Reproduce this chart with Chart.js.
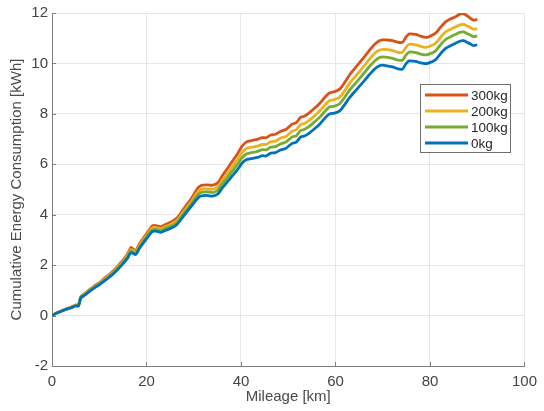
<!DOCTYPE html>
<html>
<head>
<meta charset="utf-8">
<script src="https://cdn.jsdelivr.net/npm/chart.js@4"></script>
<style>
  html, body { margin: 0; padding: 0; background: #fff; }
  #chart { display: block; }
</style>
</head>
<body>
<canvas id="chart" width="544" height="411"></canvas>
<script>
// mileage samples [km], shared by all series
const mileage = [0, 1, 2, 3, 4, 5, 5.6, 6.1, 7, 8, 9, 10, 11, 12, 13, 14, 15, 16, 16.7, 17.7,
  18.5, 19.5, 20.3, 21.2, 22, 23, 24, 25.4, 26.5, 27.5, 28.5, 29.6, 30.5, 31.3, 32, 33, 34, 35.1, 36, 37.2,
  38.2, 39.3, 40.2, 41.1, 42, 43.5, 44.5, 45.3, 46.3, 47.3, 48.4, 49.5, 50.8, 51.7, 52.6, 53.4, 54.3, 55.5, 56.8, 57.8,
  58.8, 59.8, 60.9, 62, 63, 64.4, 65.8, 67, 68.3, 69.2, 70, 71, 72.1, 73.2, 74.2, 74.9, 75.6, 77, 78, 79,
  79.8, 81.2, 82.2, 83.3, 84.3, 85.4, 86.3, 87.1, 87.8, 88.5, 89.2, 90];

// cumulative energy [kWh] per payload
const load0 = [0.0, 0.10, 0.17, 0.25, 0.30, 0.38, 0.38, 0.70, 0.82, 0.97, 1.10, 1.22, 1.36, 1.50, 1.66, 1.85, 2.05, 2.28, 2.50, 2.42,
  2.66, 2.92, 3.12, 3.33, 3.35, 3.30, 3.38, 3.48, 3.62, 3.86, 4.10, 4.36, 4.58, 4.73, 4.76, 4.76, 4.74, 4.82, 5.05, 5.32,
  5.55, 5.80, 6.04, 6.18, 6.22, 6.27, 6.34, 6.33, 6.44, 6.46, 6.57, 6.63, 6.83, 6.88, 7.08, 7.12, 7.22, 7.40, 7.62, 7.84,
  8.00, 8.03, 8.12, 8.38, 8.65, 8.95, 9.25, 9.52, 9.78, 9.90, 9.93, 9.90, 9.86, 9.78, 9.78, 9.98, 10.10, 10.08, 10.02, 9.99,
  10.02, 10.15, 10.38, 10.60, 10.70, 10.80, 10.88, 10.90, 10.84, 10.78, 10.71, 10.74];

const load100 = [0.0, 0.10, 0.18, 0.26, 0.31, 0.39, 0.39, 0.72, 0.84, 0.99, 1.13, 1.25, 1.39, 1.54, 1.70, 1.89, 2.10, 2.33, 2.57, 2.47,
  2.72, 2.98, 3.19, 3.40, 3.42, 3.37, 3.46, 3.56, 3.71, 3.95, 4.20, 4.46, 4.71, 4.86, 4.90, 4.90, 4.88, 4.97, 5.21, 5.49,
  5.74, 6.01, 6.26, 6.41, 6.45, 6.51, 6.58, 6.57, 6.68, 6.70, 6.81, 6.88, 7.08, 7.13, 7.34, 7.38, 7.48, 7.67, 7.89, 8.11,
  8.28, 8.31, 8.40, 8.67, 8.95, 9.25, 9.56, 9.84, 10.10, 10.23, 10.26, 10.24, 10.20, 10.13, 10.13, 10.33, 10.45, 10.43, 10.37, 10.34,
  10.37, 10.50, 10.73, 10.95, 11.05, 11.15, 11.23, 11.25, 11.19, 11.13, 11.06, 11.09];

const load200 = [0.0, 0.11, 0.18, 0.26, 0.32, 0.40, 0.40, 0.73, 0.86, 1.01, 1.15, 1.27, 1.42, 1.57, 1.73, 1.93, 2.14, 2.38, 2.62, 2.52,
  2.77, 3.04, 3.24, 3.47, 3.49, 3.44, 3.52, 3.64, 3.78, 4.03, 4.28, 4.55, 4.82, 4.98, 5.02, 5.02, 5.01, 5.10, 5.35, 5.65,
  5.92, 6.20, 6.46, 6.62, 6.67, 6.72, 6.79, 6.78, 6.89, 6.92, 7.04, 7.10, 7.31, 7.37, 7.57, 7.62, 7.72, 7.91, 8.14, 8.36,
  8.53, 8.57, 8.66, 8.93, 9.22, 9.53, 9.84, 10.12, 10.40, 10.52, 10.56, 10.55, 10.51, 10.44, 10.44, 10.64, 10.76, 10.74, 10.68, 10.64,
  10.67, 10.80, 11.03, 11.25, 11.35, 11.45, 11.53, 11.55, 11.49, 11.43, 11.36, 11.38];

const load300 = [0.0, 0.11, 0.19, 0.27, 0.33, 0.42, 0.42, 0.75, 0.88, 1.04, 1.18, 1.30, 1.46, 1.61, 1.78, 1.98, 2.19, 2.44, 2.70, 2.58,
  2.84, 3.11, 3.32, 3.55, 3.57, 3.52, 3.61, 3.73, 3.88, 4.13, 4.39, 4.67, 4.96, 5.13, 5.17, 5.18, 5.17, 5.27, 5.53, 5.85,
  6.13, 6.43, 6.71, 6.88, 6.93, 6.99, 7.06, 7.05, 7.16, 7.19, 7.31, 7.38, 7.59, 7.65, 7.86, 7.91, 8.02, 8.21, 8.44, 8.67,
  8.84, 8.88, 8.98, 9.26, 9.55, 9.87, 10.19, 10.48, 10.76, 10.89, 10.93, 10.93, 10.90, 10.84, 10.84, 11.04, 11.17, 11.15, 11.08, 11.03,
  11.06, 11.20, 11.43, 11.65, 11.76, 11.85, 11.95, 11.97, 11.90, 11.80, 11.72, 11.75];

const seriesLabels = ['0kg', '100kg', '200kg', '300kg'];
const seriesColors = ['#0072BD', '#77AC30', '#EDB120', '#D95319'];
const seriesValues = [load0, load100, load200, load300];

const xTicks = [0, 20, 40, 60, 80, 100];
const yTicks = [-2, 0, 2, 4, 6, 8, 10, 12];

const FONT = "'Liberation Sans', Arial, Helvetica, sans-serif";

// MATLAB-style boxed legend inside the axes, plus inward tick marks
const matlabBits = {
  id: 'matlabBits',
  afterDraw(chart) {
    const ctx = chart.ctx;
    const { x, y } = chart.scales;
    ctx.save();

    // inward ticks
    ctx.strokeStyle = '#808080';
    ctx.lineWidth = 1;
    ctx.beginPath();
    xTicks.forEach(v => {
      const px = Math.round(x.getPixelForValue(v)) + 0.5;
      ctx.moveTo(px, y.bottom);
      ctx.lineTo(px, y.bottom - 4);
    });
    yTicks.forEach(v => {
      const py = Math.round(y.getPixelForValue(v)) + 0.5;
      ctx.moveTo(x.left, py);
      ctx.lineTo(x.left + 4, py);
    });
    ctx.stroke();

    // legend box
    const bx = 420.5, by = 84.5, bw = 90, bh = 68;
    ctx.fillStyle = '#fff';
    ctx.fillRect(bx, by, bw, bh);
    ctx.strokeStyle = '#6e6e6e';
    ctx.strokeRect(bx, by, bw, bh);

    ctx.font = '13.5px ' + FONT;
    ctx.textBaseline = 'middle';
    ctx.textAlign = 'left';
    const order = [3, 2, 1, 0];
    order.forEach((i, k) => {
      const ly = 95 + k * 16;
      ctx.strokeStyle = seriesColors[i];
      ctx.lineWidth = 2.8;
      ctx.beginPath();
      ctx.moveTo(425, ly);
      ctx.lineTo(468, ly);
      ctx.stroke();
      ctx.fillStyle = '#262626';
      ctx.fillText(seriesLabels[i], 471, ly + 1);
    });
    ctx.restore();
  }
};

new Chart(document.getElementById('chart').getContext('2d'), {
  type: 'line',
  data: {
    datasets: seriesValues.map((vals, i) => ({
      label: seriesLabels[i],
      data: vals.map((v, j) => ({ x: mileage[j], y: v })),
      borderColor: seriesColors[i],
      backgroundColor: seriesColors[i],
      borderWidth: 2.8,
      pointRadius: 0,
      tension: 0.2,
      fill: false,
    })),
  },
  options: {
    responsive: false,
    animation: false,
    layout: { padding: { top: 11, right: 14, left: 0, bottom: 0 } },
    plugins: {
      legend: { display: false },
      tooltip: { enabled: false },
    },
    scales: {
      x: {
        type: 'linear',
        min: 0,
        max: 100,
        afterBuildTicks: s => { s.ticks = xTicks.map(v => ({ value: v })); },
        afterFit: s => { s.height = 45; },
        ticks: { color: '#444', font: { family: FONT, size: 15 }, padding: 7, maxRotation: 0 },
        grid: { color: '#e6e6e6', drawTicks: false },
        border: { color: '#808080' },
        title: {
          display: true,
          text: 'Mileage [km]',
          color: '#4a4a4a',
          font: { family: FONT, size: 15 },
          padding: { bottom: 5, top: 0 },
        },
      },
      y: {
        min: -2,
        max: 12,
        afterBuildTicks: s => { s.ticks = yTicks.map(v => ({ value: v })); },
        afterFit: s => { s.width = 52; },
        ticks: { color: '#444', font: { family: FONT, size: 15 }, padding: 4 },
        grid: { color: '#e6e6e6', drawTicks: false },
        border: { color: '#808080' },
        title: {
          display: true,
          text: 'Cumulative Energy Consumption [kWh]',
          color: '#4a4a4a',
          font: { family: FONT, size: 15 },
          padding: { top: 8, bottom: 0 },
        },
      },
    },
  },
  plugins: [matlabBits],
});
</script>
</body>
</html>
